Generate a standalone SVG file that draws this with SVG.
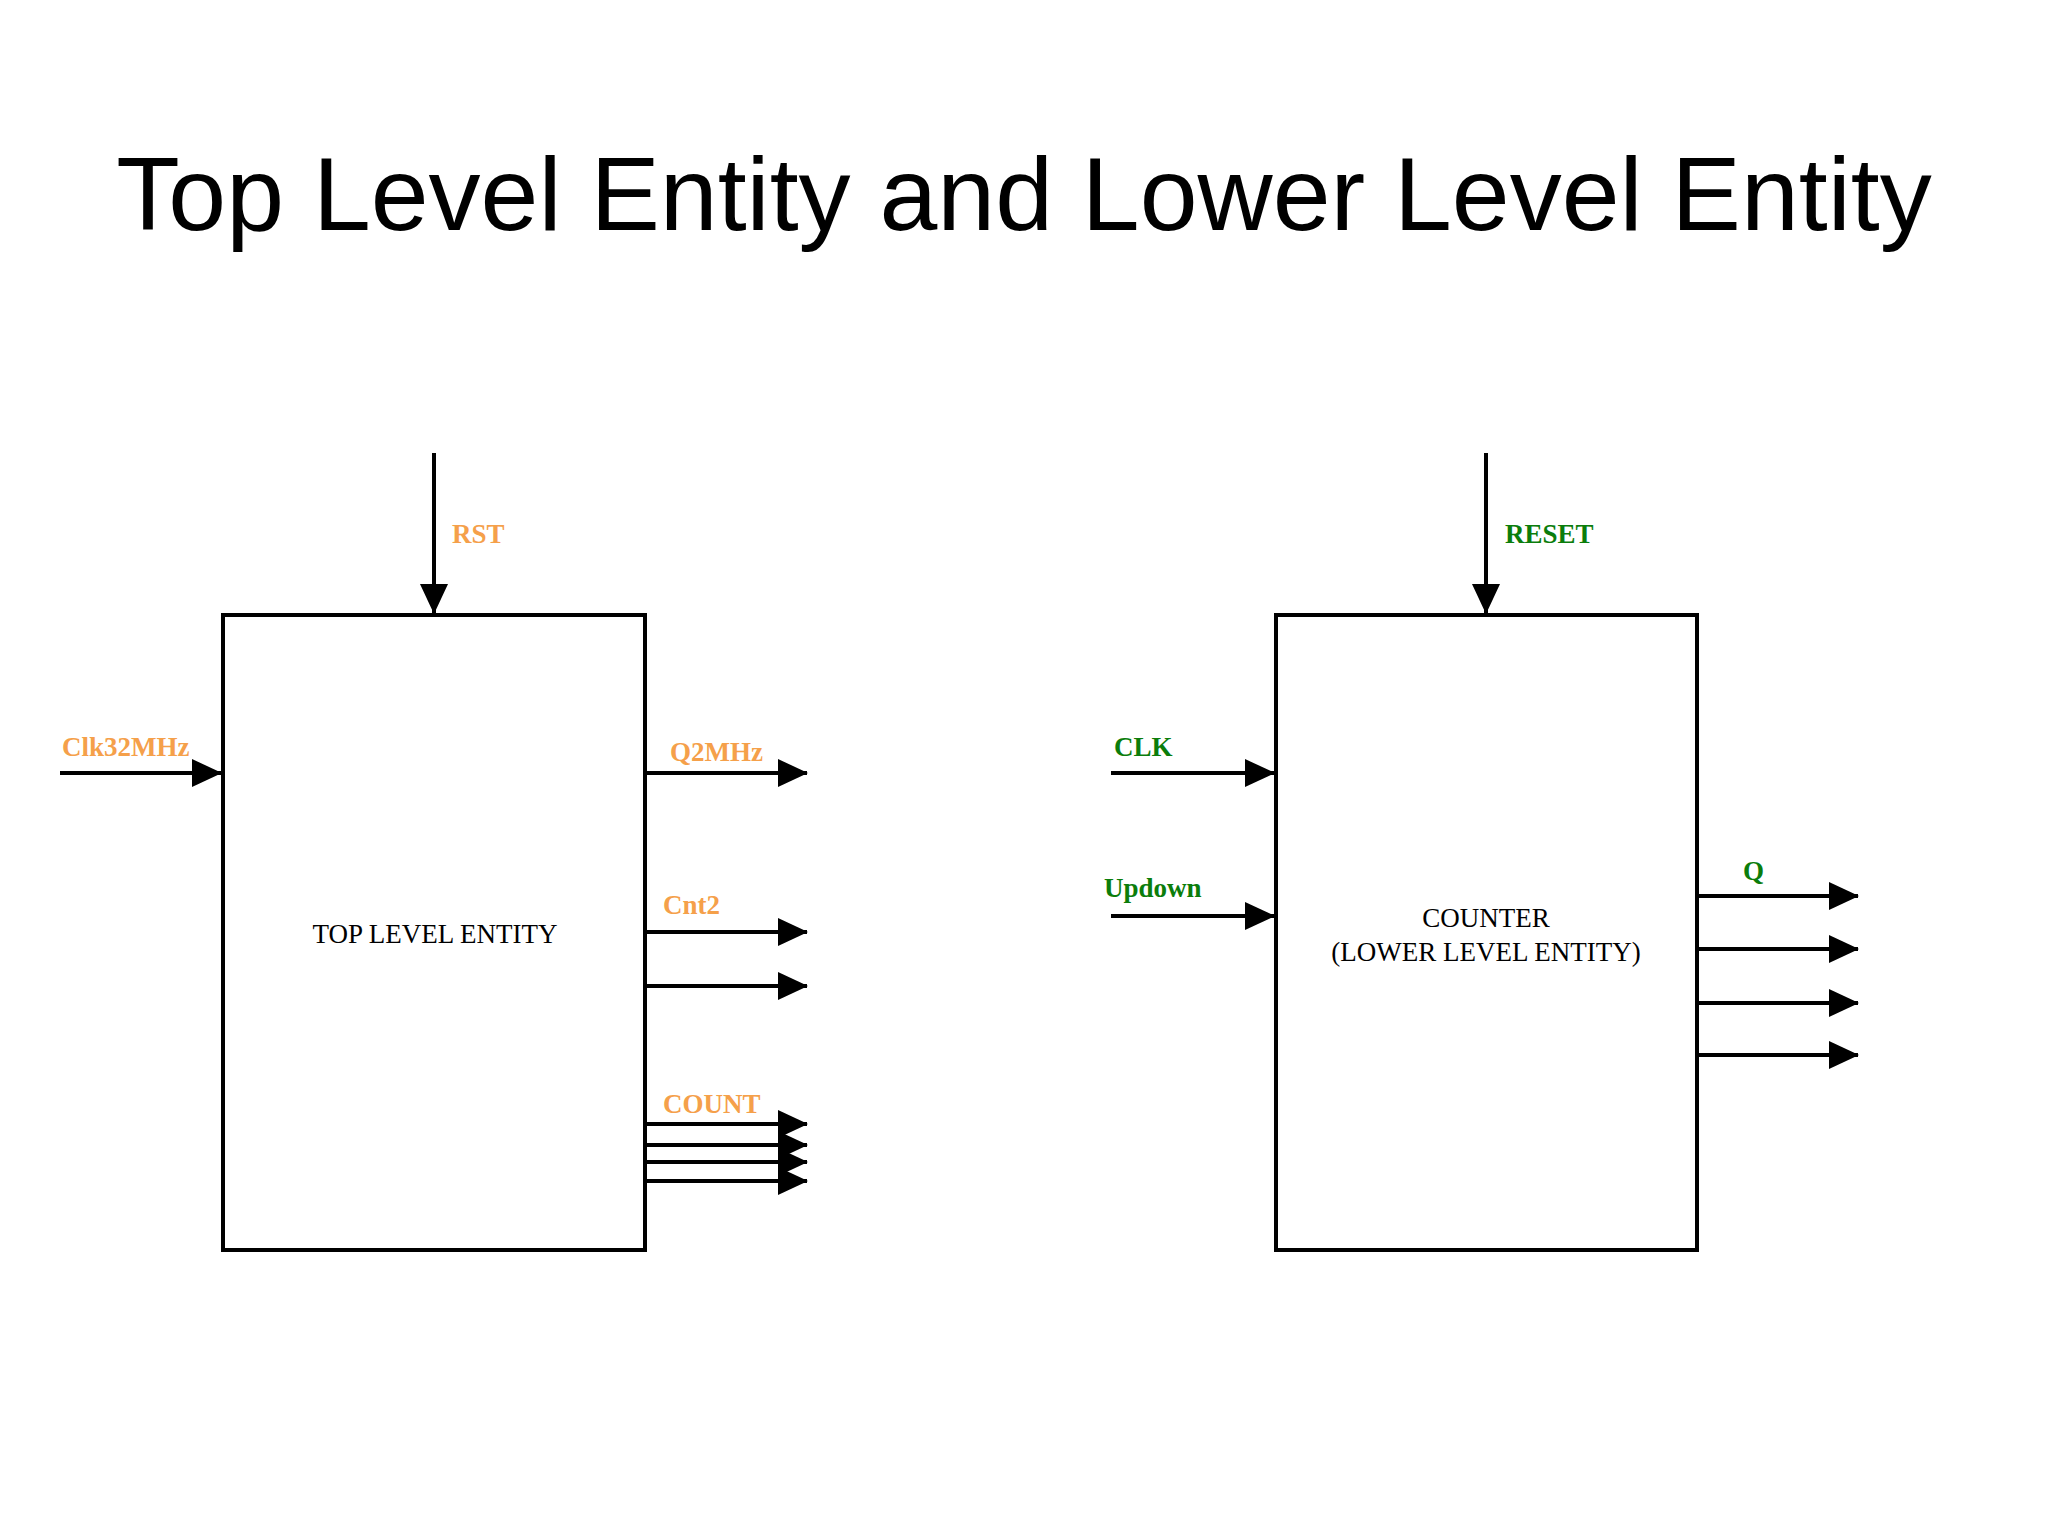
<svg xmlns="http://www.w3.org/2000/svg" width="2048" height="1536" viewBox="0 0 2048 1536">
<style>
.box{fill:#fff;stroke:#000;stroke-width:4}
.w{stroke:#000;stroke-width:4;fill:none}
.lo{font-family:"Liberation Serif",serif;font-weight:bold;font-size:27px;fill:#F5A04A}
.lg{font-family:"Liberation Serif",serif;font-weight:bold;font-size:27px;fill:#0B7D0B}
.t{font-family:"Liberation Serif",serif;font-size:27px;fill:#000;text-anchor:middle}
</style>
<defs><marker id="a" markerUnits="userSpaceOnUse" markerWidth="30" markerHeight="28" refX="29" refY="14" orient="auto"><path d="M0,0 L30,14 L0,28 Z" fill="#000"/></marker></defs>
<rect width="2048" height="1536" fill="#fff"/>
<text x="1024" y="230" font-family="Liberation Sans,Arial,sans-serif" font-size="104" text-anchor="middle">Top Level Entity and Lower Level Entity</text>
<g id="top"><rect class="box" x="223" y="615" width="422" height="635"/><text class="t" x="435" y="943">TOP LEVEL ENTITY</text></g>
<g id="counter"><rect class="box" x="1276" y="615" width="421" height="635"/><text class="t" x="1486" y="927">COUNTER</text><text class="t" x="1486" y="961">(LOWER LEVEL ENTITY)</text></g>
<g id="connectors">
<line class="w" x1="434" y1="453" x2="434" y2="613" marker-end="url(#a)"/>
<line class="w" x1="1486" y1="453" x2="1486" y2="613" marker-end="url(#a)"/>
<line class="w" x1="60" y1="773" x2="221" y2="773" marker-end="url(#a)"/>
<line class="w" x1="645" y1="773" x2="807" y2="773" marker-end="url(#a)"/>
<line class="w" x1="645" y1="932" x2="807" y2="932" marker-end="url(#a)"/>
<line class="w" x1="645" y1="986" x2="807" y2="986" marker-end="url(#a)"/>
<line class="w" x1="645" y1="1124" x2="807" y2="1124" marker-end="url(#a)"/>
<line class="w" x1="645" y1="1145" x2="807" y2="1145" marker-end="url(#a)"/>
<line class="w" x1="645" y1="1162" x2="807" y2="1162" marker-end="url(#a)"/>
<line class="w" x1="645" y1="1181" x2="807" y2="1181" marker-end="url(#a)"/>
<line class="w" x1="1111" y1="773" x2="1274" y2="773" marker-end="url(#a)"/>
<line class="w" x1="1111" y1="916" x2="1274" y2="916" marker-end="url(#a)"/>
<line class="w" x1="1697" y1="896" x2="1858" y2="896" marker-end="url(#a)"/>
<line class="w" x1="1697" y1="949" x2="1858" y2="949" marker-end="url(#a)"/>
<line class="w" x1="1697" y1="1003" x2="1858" y2="1003" marker-end="url(#a)"/>
<line class="w" x1="1697" y1="1055" x2="1858" y2="1055" marker-end="url(#a)"/>
</g>
<g id="labels">
<text class="lo" x="452" y="543">RST</text>
<text class="lo" x="62" y="756">Clk32MHz</text>
<text class="lo" x="670" y="761">Q2MHz</text>
<text class="lo" x="663" y="914">Cnt2</text>
<text class="lo" x="663" y="1113">COUNT</text>
<text class="lg" x="1505" y="543">RESET</text>
<text class="lg" x="1114" y="756">CLK</text>
<text class="lg" x="1104" y="897">Updown</text>
<text class="lg" x="1743" y="880">Q</text>
</g>
</svg>
